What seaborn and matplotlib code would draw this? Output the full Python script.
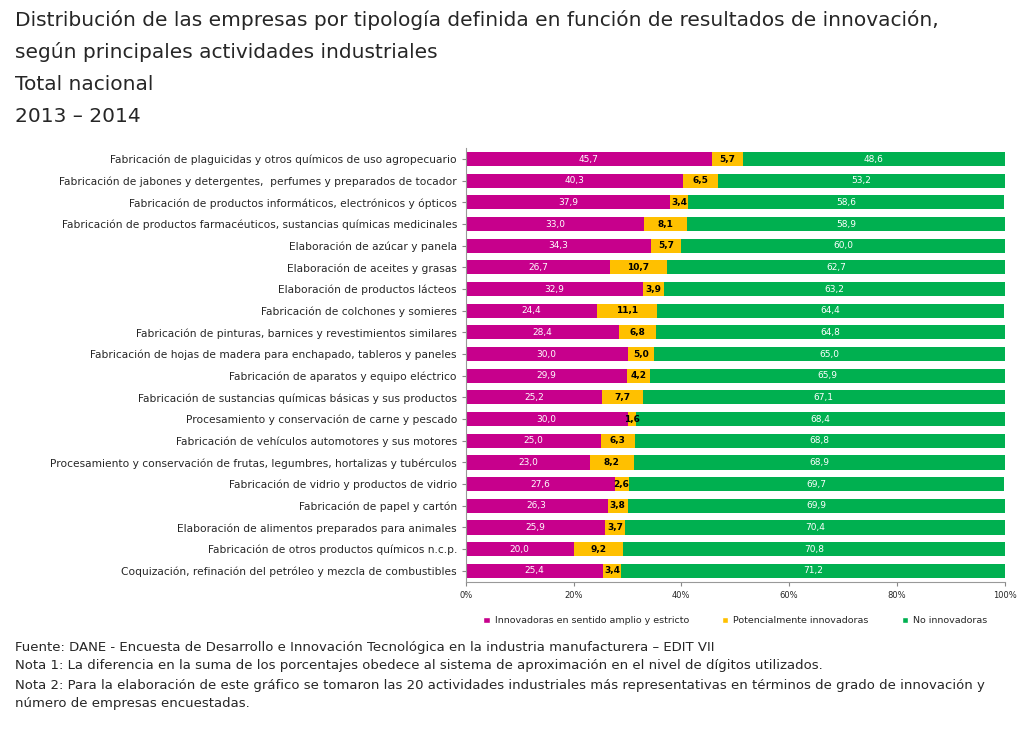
import numpy as np
import pandas as pd
import seaborn as sns
import matplotlib.pyplot as plt
from matplotlib.patches import Patch

# ------------------ DATA ------------------
actividades = [
    'Fabricación de plaguicidas y otros químicos de uso agropecuario',
    'Fabricación de jabones y detergentes,  perfumes y preparados de tocador',
    'Fabricación de productos informáticos, electrónicos y ópticos',
    'Fabricación de productos farmacéuticos, sustancias químicas medicinales',
    'Elaboración de azúcar y panela',
    'Elaboración de aceites y grasas',
    'Elaboración de productos lácteos',
    'Fabricación de colchones y somieres',
    'Fabricación de pinturas, barnices y revestimientos similares',
    'Fabricación de hojas de madera para enchapado, tableros y paneles',
    'Fabricación de aparatos y equipo eléctrico',
    'Fabricación de sustancias químicas básicas y sus productos',
    'Procesamiento y conservación de carne y pescado',
    'Fabricación de vehículos automotores y sus motores',
    'Procesamiento y conservación de frutas, legumbres, hortalizas y tubérculos',
    'Fabricación de vidrio y productos de vidrio',
    'Fabricación de papel y cartón',
    'Elaboración de alimentos preparados para animales',
    'Fabricación de otros productos químicos n.c.p.',
    'Coquización, refinación del petróleo y mezcla de combustibles',
]

innovadoras = [45.7, 40.3, 37.9, 33.0, 34.3, 26.7, 32.9, 24.4, 28.4, 30.0,
               29.9, 25.2, 30.0, 25.0, 23.0, 27.6, 26.3, 25.9, 20.0, 25.4]
potenciales = [5.7, 6.5, 3.4, 8.1, 5.7, 10.7, 3.9, 11.1, 6.8, 5.0,
               4.2, 7.7, 1.6, 6.3, 8.2, 2.6, 3.8, 3.7, 9.2, 3.4]
no_innovadoras = [48.6, 53.2, 58.6, 58.9, 60.0, 62.7, 63.2, 64.4, 64.8, 65.0,
                  65.9, 67.1, 68.4, 68.8, 68.9, 69.7, 69.9, 70.4, 70.8, 71.2]

series = ['Innovadoras en sentido amplio y estricto',
          'Potencialmente innovadoras',
          'No innovadoras']
colores = ['#C7008C', '#FFC000', '#00B050']
x_ticks = [0, 20, 40, 60, 80, 100]

df = pd.DataFrame({
    'Actividad': actividades,
    'inn': innovadoras,
    'pot': potenciales,
    'no': no_innovadoras,
})
df['c1'] = df['inn']
df['c2'] = df['inn'] + df['pot']
df['c3'] = (df['c2'] + df['no']).clip(upper=100)

# ------------------ PLOT ------------------
sns.set_style('white')
plt.rcParams['font.family'] = ['DejaVu Sans']

fig = plt.figure(figsize=(10.24, 7.41), dpi=100)
ax = fig.add_axes([0.455, 0.215, 0.526, 0.585])

# stacked bars by overlaying cumulative totals
for col, color in zip(['c3', 'c2', 'c1'], colores[::-1]):
    sns.barplot(data=df, x=col, y='Actividad', color=color, orient='h',
                width=0.65, ax=ax, saturation=1, edgecolor='none')

# data labels
for i, row in df.iterrows():
    ax.text(row['inn'] / 2, i, f"{row['inn']:.1f}".replace('.', ','),
            ha='center', va='center', color='white', fontsize=6.5)
    ax.text(row['inn'] + row['pot'] / 2, i, f"{row['pot']:.1f}".replace('.', ','),
            ha='center', va='center', color='black', fontsize=6.5, fontweight='bold')
    ax.text(row['c2'] + (row['c3'] - row['c2']) / 2, i, f"{row['no']:.1f}".replace('.', ','),
            ha='center', va='center', color='white', fontsize=6.5)

ax.set_xlim(0, 100)
ax.set_ylim(len(df) - 0.5, -0.5)
ax.set_xticks(x_ticks)
ax.set_xticklabels([f'{t}%' for t in x_ticks], fontsize=6)
ax.tick_params(axis='y', labelsize=7.7, length=3, color='#888888', left=True)
ax.tick_params(axis='x', length=3, color='#888888', bottom=True)
ax.set_xlabel('')
ax.set_ylabel('')
for s in ['top', 'right']:
    ax.spines[s].set_visible(False)
for s in ['left', 'bottom']:
    ax.spines[s].set_color('#999999')
    ax.spines[s].set_linewidth(0.8)

handles = [Patch(facecolor=c, label=l) for c, l in zip(colores, series)]
ax.legend(handles=handles, loc='upper center', bbox_to_anchor=(0.5, -0.06),
          ncol=3, frameon=False, fontsize=6.8, handlelength=0.7,
          handleheight=0.7, columnspacing=3.5, handletextpad=0.5)

# ------------------ TEXTS ------------------
titulo = ['Distribución de las empresas por tipología definida en función de resultados de innovación,',
          'según principales actividades industriales',
          'Total nacional',
          '2013 – 2014']
for k, t in enumerate(titulo):
    fig.text(0.015, 1 - (20 + k * 32) / 741, t, fontsize=14.5, va='center', ha='left')

notas = ['Fuente: DANE - Encuesta de Desarrollo e Innovación Tecnológica en la industria manufacturera – EDIT VII',
         'Nota 1: La diferencia en la suma de los porcentajes obedece al sistema de aproximación en el nivel de dígitos utilizados.',
         'Nota 2: Para la elaboración de este gráfico se tomaron las 20 actividades industriales más representativas en términos de grado de innovación y',
         'número de empresas encuestadas.']
for k, t in enumerate(notas):
    fig.text(0.015, 1 - (647 + k * 19) / 741, t, fontsize=9.5, va='center', ha='left')

fig.savefig('out.png', dpi=100)
